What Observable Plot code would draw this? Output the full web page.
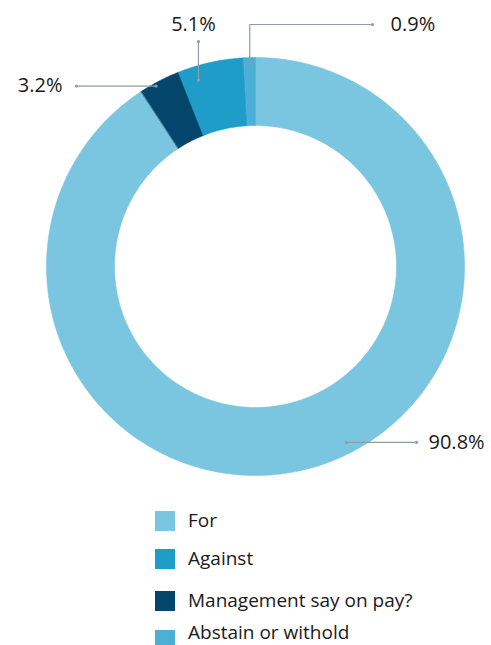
<!DOCTYPE html>
<html><head><meta charset="utf-8">
<script src="https://cdn.jsdelivr.net/npm/d3@7"></script>
<script src="https://cdn.jsdelivr.net/npm/@observablehq/plot@0.6"></script>
<style>
html,body{margin:0;padding:0;background:#fff;}
body{width:491px;height:645px;overflow:hidden;position:relative;font-family:"Open Sans","Noto Sans",sans-serif;color:#1a1a1a;}
#chart svg{display:block;}
.sw{position:absolute;left:155px;width:20px;height:20px;}
.t{position:absolute;left:188px;font-size:19px;line-height:20px;height:20px;white-space:nowrap;}
</style></head><body>
<div id="chart"></div>
<script>
// Slices in clockwise order from 12 o'clock
const categories = ["For", "Management say on pay?", "Against", "Abstain or withold"];
const values = [90.8, 3.2, 5.1, 0.9];
const colors = ["#7AC5DF", "#04466B", "#1F9DC9", "#4BAFD6"];
const labels = ["90.8%", "3.2%", "5.1%", "0.9%"];
const legendOrder = ["For", "Against", "Management say on pay?", "Abstain or withold"];

const W = 491, H = 495;
const cx = 255, cy = 266;          // pixel centre of donut
const R = 209, r0 = 141;           // outer / inner radii (px)

const total = d3.sum(values);
let acc = 0;
const slices = categories.map((c, i) => {
  const a0 = acc / total * 2 * Math.PI;
  acc += values[i];
  const a1 = acc / total * 2 * Math.PI;
  return {cat: c, value: values[i], label: labels[i], color: colors[i], a0, a1};
});

const pt = (a, rad) => ({x: rad * Math.sin(a), y: rad * Math.cos(a)});

// polygon points for each ring slice
const poly = [];
for (const s of slices) {
  const n = Math.max(4, Math.ceil((s.a1 - s.a0) / 0.01));
  for (let k = 0; k <= n; k++) poly.push({cat: s.cat, ...pt(s.a0 + (s.a1 - s.a0) * k / n, R)});
  for (let k = n; k >= 0; k--) poly.push({cat: s.cat, ...pt(s.a0 + (s.a1 - s.a0) * k / n, r0)});
}

// leader layout: position along slice (t), anchor radius, and routing
const leaderLayout = {
  "90.8%": {t: 0.467, rad: 198, route: "h", to: 161, tx: 173, anchor: "start"},
  "3.2%":  {t: 0.37,  rad: 206, route: "h", to: -179, tx: -193, anchor: "end"},
  "5.1%":  {t: 0.25,  rad: 195, route: "v", to: 225, dx: -5, ty: 242, anchor: "middle"},
  "0.9%":  {t: 0.5,   rad: 203, route: "vh", to: 242, to2: 117, tx: 135, anchor: "start"}
};
const lines = [], dots = [], texts = [];
for (const s of slices) {
  const L = leaderLayout[s.label];
  const a = pt(s.a0 + (s.a1 - s.a0) * L.t, L.rad);
  let path;
  if (L.route === "h") {
    path = [a, {x: L.to, y: a.y}];
    texts.push({x: L.tx, y: a.y, text: s.label, anchor: L.anchor});
  } else if (L.route === "v") {
    path = [a, {x: a.x, y: L.to}];
    texts.push({x: a.x + L.dx, y: L.ty, text: s.label, anchor: L.anchor});
  } else {
    path = [a, {x: a.x, y: L.to}, {x: L.to2, y: L.to}];
    texts.push({x: L.tx, y: L.to, text: s.label, anchor: L.anchor});
  }
  path.forEach(p => lines.push({id: s.label, ...p}));
  dots.push({id: s.label, ...path[0]}, {id: s.label, ...path[path.length - 1]});
}

const textOpts = {x: "x", y: "y", text: "text", fontSize: 20, fill: "#1a1a1a"};
const plot = Plot.plot({
  width: W, height: H,
  margin: 0,
  x: {domain: [-cx, W - cx], range: [0, W], axis: null},
  y: {domain: [cy - H, cy], range: [H, 0], axis: null},
  color: {domain: categories, range: colors},
  style: {fontFamily: "'Open Sans','Noto Sans',sans-serif", background: "#fff"},
  marks: [
    Plot.line(poly, {x: "x", y: "y", z: "cat", fill: "cat", stroke: "cat", strokeWidth: 0.6, curve: "linear-closed"}),
    Plot.line(lines, {x: "x", y: "y", z: "id", stroke: "#8c9ea6", strokeWidth: 1.2}),
    Plot.dot(dots, {x: "x", y: "y", r: 1.6, fill: "#8c9ea6"}),
    Plot.text(texts.filter(d => d.anchor === "start"), {...textOpts, textAnchor: "start"}),
    Plot.text(texts.filter(d => d.anchor === "end"), {...textOpts, textAnchor: "end"}),
    Plot.text(texts.filter(d => d.anchor === "middle"), {...textOpts, textAnchor: "middle"})
  ]
});
document.getElementById("chart").appendChild(plot);

// legend rows (square top, text centre) in pixels
const legendRows = [[511, 521], [549, 559], [591, 601], [630, 633]];
legendOrder.forEach((c, i) => {
  const sw = document.createElement("div");
  sw.className = "sw";
  sw.style.top = legendRows[i][0] + "px";
  sw.style.background = colors[categories.indexOf(c)];
  const t = document.createElement("div");
  t.className = "t";
  t.style.top = (legendRows[i][1] - 11) + "px";
  t.textContent = c;
  document.body.appendChild(sw);
  document.body.appendChild(t);
});
</script>
</body></html>
